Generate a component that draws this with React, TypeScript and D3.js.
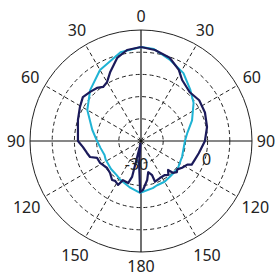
import * as d3 from "d3";

// polar pattern, angle in degrees (0 at top, clockwise), level in dB
const RINGS = [-30, -15, 0, 15, 30];
const R_MIN = -45;
const R_MAX = 30;
const SPOKES = [0, 30, 60, 90, 120, 150, 180, 210, 240, 270, 300, 330];
const SPOKE_LABELS = ["0", "30", "60", "90", "120", "150", "180", "150", "120", "90", "60", "30"];
const RING_LABELS = ["-30", "0"];
const RING_LABEL_VALUES = [-30, 0];
const RING_LABEL_ANGLES = [191, 106];

const cyanAngles = [0, 8, 20, 32, 44, 54, 68, 80, 90, 111, 127, 142, 150, 160, 166, 177, 181, 193, 208, 215, 227, 242, 249, 260, 270, 283, 300, 315, 330, 347, 360];
const cyanValues = [18.5, 17.8, 13.1, 9.1, 3.0, -1.1, -7.8, -13.2, -15.3, -15.3, -13.9, -13.9, -13.2, -13.2, -12.2, -10.8, -9.9, -12.6, -15.3, -16.6, -17.3, -18.0, -18.6, -17.3, -15.3, -11.2, -3.1, 3.6, 10.4, 16.5, 18.5];

const navyAngles = [0, 8.7, 19, 28, 34, 45, 55, 66, 78, 90, 102, 109, 115, 117, 123, 128, 131, 135, 137, 141, 145, 153, 161, 162, 167, 171, 177.7, 181, 185, 190, 194, 197, 204.8, 207.6, 213, 216.6, 224, 231.5, 238, 242, 249, 252.6, 257.5, 264, 270, 288.4, 299, 307, 314, 320.3, 325, 330, 336, 344, 351.3, 360];
const navyValues = [18.5, 17.2, 14.5, 9.4, 4.7, 1.6, 3.0, 2.3, 0.6, -1.8, -5.1, -6.5, -7.2, -9.9, -11.9, -13.9, -12.9, -14.6, -18.2, -15.6, -16.9, -16.9, -15.9, -20.7, -23.4, -18.3, -11.9, -10.5, -30.1, -43.0, -20.0, -15.3, -15.9, -11.5, -12.9, -12.2, -14.9, -15.7, -14.6, -13.6, -13.2, -8.9, -7.6, -5.6, -2.4, -0.1, 2.2, 4.2, 2.8, 1.6, -0.4, 0.9, 6.1, 13.4, 17.2, 18.5];

const W = 275;
const H = 280;
const CX = 141;
const CY = 141;
const RADIUS = 111;
const FONT = "'Noto Sans', 'DejaVu Sans', sans-serif";

export default function App() {
  const r = d3.scaleLinear().domain([R_MIN, R_MAX]).range([0, RADIUS]);
  const rad = (deg: number) => (deg * Math.PI) / 180;
  const px = (deg: number, rr: number) => rr * Math.sin(rad(deg));
  const py = (deg: number, rr: number) => -rr * Math.cos(rad(deg));

  const line = d3
    .lineRadial<[number, number]>()
    .angle((d) => rad(d[0]))
    .radius((d) => r(d[1]))
    .curve(d3.curveLinear);

  const cyan = line(d3.zip(cyanAngles, cyanValues) as [number, number][]) ?? "";
  const navy = line(d3.zip(navyAngles, navyValues) as [number, number][]) ?? "";

  return (
    <svg width={W} height={H} style={{ position: "absolute", left: 0, top: 0, background: "#fff" }}>
      <g transform={`translate(${CX},${CY})`}>
        {RINGS.map((v, i) => (
          <circle
            key={"c" + v}
            r={r(v)}
            fill="none"
            stroke="#222"
            strokeWidth={1}
            strokeDasharray={i === RINGS.length - 1 ? undefined : "4,3"}
          />
        ))}
        {SPOKES.filter((a) => a % 90 !== 0).map((a) => (
          <line
            key={"s" + a}
            x1={0}
            y1={0}
            x2={px(a, r(R_MAX))}
            y2={py(a, r(R_MAX))}
            stroke="#222"
            strokeWidth={1}
            strokeDasharray="4,3"
          />
        ))}
        <line x1={0} y1={-r(R_MAX)} x2={0} y2={r(R_MAX)} stroke="#111" strokeWidth={1.2} />
        <line x1={-r(R_MAX)} y1={0} x2={r(R_MAX)} y2={0} stroke="#111" strokeWidth={1.2} />

        <path d={cyan} fill="none" stroke="#1fb3d4" strokeWidth={2} strokeLinejoin="round" />
        <path d={navy} fill="none" stroke="#1b1a5a" strokeWidth={2.2} strokeLinejoin="round" />

        {SPOKES.map((a, i) => {
          const lr = r(R_MAX) + (a % 90 === 0 ? 14 : a > 90 && a < 270 ? 21 : 17);
          return (
            <text
              key={"t" + a}
              x={px(a, lr)}
              y={py(a, lr) + 5.7}
              textAnchor="middle"
              fontFamily={FONT}
              fontSize={16}
              fill="#222"
            >
              {SPOKE_LABELS[i]}
            </text>
          );
        })}
        {RING_LABELS.map((t, i) => {
          const a = RING_LABEL_ANGLES[i];
          const rr = r(RING_LABEL_VALUES[i]) + 1.5;
          return (
            <text
              key={"rl" + t}
              x={px(a, rr)}
              y={py(a, rr) + 5.7}
              textAnchor="middle"
              fontFamily={FONT}
              fontSize={16}
              fill="#222"
            >
              {t}
            </text>
          );
        })}
      </g>
    </svg>
  );
}
